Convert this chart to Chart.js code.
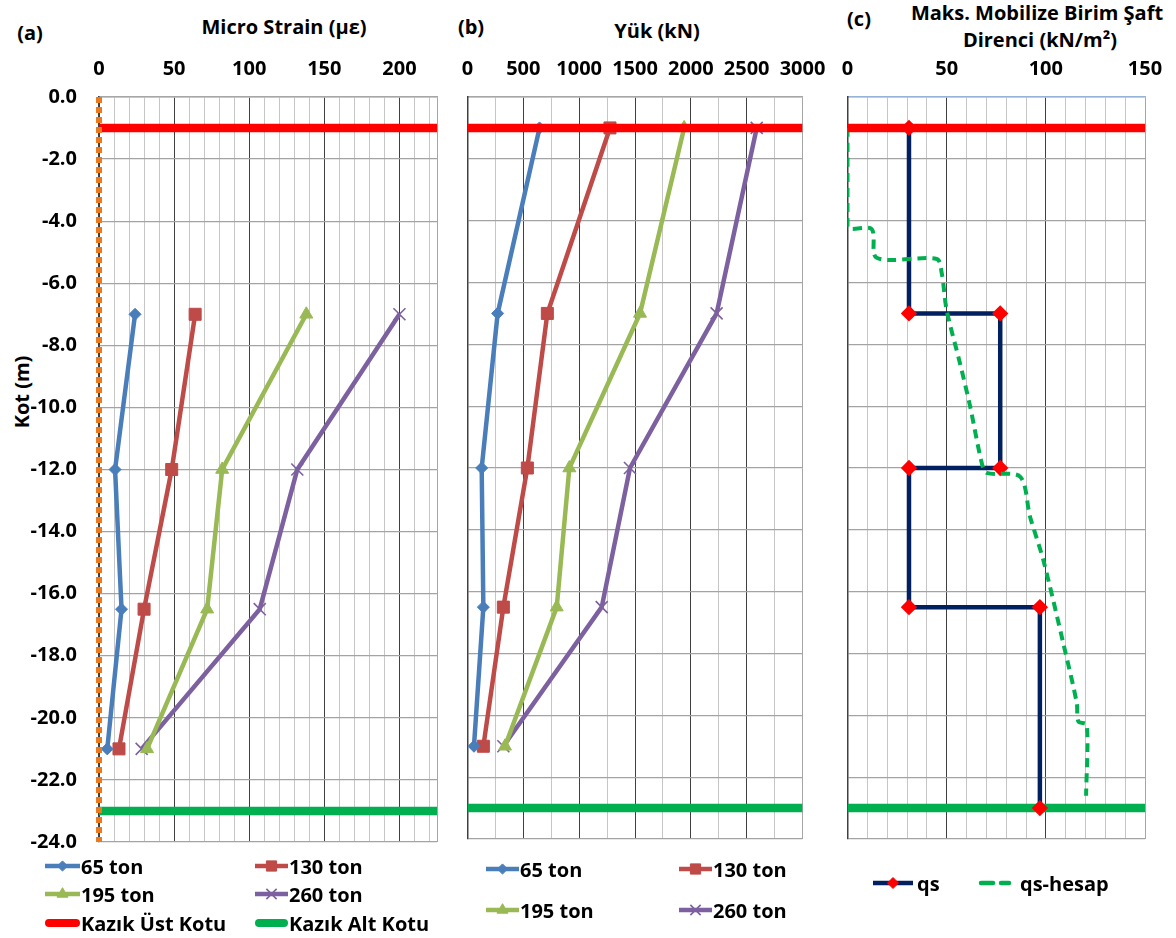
<!DOCTYPE html>
<html>
<head>
<meta charset="utf-8">
<script src="https://cdn.jsdelivr.net/npm/chart.js@4.4.1/dist/chart.umd.min.js"></script>
<style>
body{margin:0;background:#fff;width:1176px;height:938px;position:relative;overflow:hidden;font-family:"Open Sans",Lato,sans-serif;font-weight:bold;color:#000}
.t{position:absolute;white-space:nowrap;transform:translate(-50%,-50%);font-size:20px;line-height:1}
canvas.ch{position:absolute;top:0}
.li{position:absolute;display:flex;align-items:center;font-size:20px;height:24px;white-space:nowrap}
.li canvas{display:block}
</style>
</head>
<body>
<div class="t" style="left:30px;top:33px">(a)</div>
<div class="t" style="left:284px;top:27px">Micro Strain (με)</div>
<div class="t" style="left:22px;top:392px;transform:translate(-50%,-50%) rotate(-90deg)">Kot (m)</div>
<div class="t" style="left:471px;top:27px">(b)</div>
<div class="t" style="left:657px;top:31px">Yük (kN)</div>
<div class="t" style="left:859px;top:19px">(c)</div>
<div class="t" style="left:1037px;top:13px">Maks. Mobilize Birim Şaft</div>
<div class="t" style="left:1040px;top:40px">Direnci (kN/m²)</div>

<canvas class="ch" id="chartA" width="450" height="860" style="left:0"></canvas>
<canvas class="ch" id="chartB" width="375" height="860" style="left:450px"></canvas>
<canvas class="ch" id="chartC" width="346" height="860" style="left:830px"></canvas>

<script>
// (a) mikro birim deformasyon
const depthA = [-7, -12, -16.5, -21];
const strain65 = [24, 10.7, 15, 5.5];
const strain130 = [64, 48.4, 30, 13.3];
const strain195 = [138, 82, 72, 32];
const strain260 = [200, 132, 107, 28.4];
const strainTicks = [0, 50, 100, 150, 200];

// (b) yuk
const depthB = [-1, -7, -12, -16.5, -21];
const load65 = [645, 270, 127, 142, 58];
const load130 = [1276, 715, 536, 321, 142];
const load195 = [1940, 1545, 912, 799, 336];
const load260 = [2590, 2231, 1455, 1202, 321];
const loadTicks = [0, 500, 1000, 1500, 2000, 2500, 3000];

// (c) birim saft direnci
const qsX = [31, 31, 77, 77, 31, 31, 97, 97];
const qsDepth = [-1, -7, -7, -12, -12, -16.5, -16.5, -23];
const hesapX = [0, 0, 12.2, 14.7, 45, 47.5, 50, 56.7, 61.8, 67.7, 70.2, 87, 92, 98.7, 108.8, 115.6, 116.4, 120.6, 120.3];
const hesapDepth = [-1, -4.19, -4.27, -5.2, -5.24, -5.69, -6.89, -8.61, -10, -11.84, -12.16, -12.28, -13.57, -14.97, -17.67, -19.6, -20.2, -20.3, -22.6];
const qsTicks = [0, 50, 100, 150];

const seriesNames = ['65 ton', '130 ton', '195 ton', '260 ton'];
const pileTop = -1, pileBottom = -23; // kazik ust / alt kotu
const yMin = -24, yMax = 0;

const colors = ['#4A7EBB', '#BE4B48', '#98B954', '#7D60A0'];
const markers = ['rectRot', 'rect', 'triangle', 'crossRot'];
const radii = [6, 8.5, 7.5, 8.5];
const tickFont = {family: 'Open Sans', size: 20, weight: 'bold'};

function zip(xs, ys) {
  return xs.map((x, i) => ({x: x, y: ys[i]}));
}

function series(i, xs, ys) {
  return {
    label: seriesNames[i], data: zip(xs, ys), showLine: true,
    borderColor: colors[i], backgroundColor: colors[i], borderWidth: 4.5,
    pointStyle: markers[i], pointRadius: radii[i], pointHoverRadius: radii[i],
    pointBorderWidth: i == 3 ? 1.6 : 1, pointBorderColor: colors[i], order: 2
  };
}

function hLine(label, y, max, color, order) {
  return {label: label, data: [{x: 0, y: y}, {x: max, y: y}], showLine: true,
    borderColor: color, borderWidth: 8.5, pointRadius: 0, order: order};
}

// etiket tasmasi icin eklenen bosluklari kaldir, cizim alanini sabitle
function noLabelPadding(s) {
  s.paddingLeft = 0; s.paddingRight = 0; s.paddingTop = 0; s.paddingBottom = 0;
}

function xAxis(max, step, major, labels, topColor) {
  return {
    type: 'linear', position: 'top', min: 0, max: max,
    ticks: {stepSize: step, autoSkip: false, maxRotation: 0, padding: 16, font: tickFont, color: '#000',
      callback: v => labels.includes(v) ? v : ''},
    afterBuildTicks: s => {
      const t = [];
      for (let v = 0; v < max; v += step) t.push({value: v});
      t.push({value: max});
      s.ticks = t;
    },
    grid: {drawTicks: false, lineWidth: 1,
      color: c => c.tick.value == max ? '#a6a6a6' : (c.tick.value % major == 0 ? '#404040' : '#c6c6c6')},
    border: {color: topColor, width: 1.5},
    afterFit: s => { s.height = 97; noLabelPadding(s); }
  };
}

function yAxis(showLabels, width, topColor) {
  return {
    type: 'linear', min: yMin, max: yMax,
    ticks: {stepSize: 2, display: showLabels, padding: 22, font: tickFont, color: '#000',
      callback: v => v.toFixed(1)},
    grid: {drawTicks: false, lineWidth: 1.2, color: c => c.tick.value == yMax ? topColor : '#a3a3a3'},
    border: {color: '#404040', width: 1.5},
    afterFit: s => { s.width = width; noLabelPadding(s); }
  };
}

function baseOptions(x, y, padding) {
  return {
    responsive: false, animation: false,
    layout: {padding: padding},
    plugins: {legend: {display: false}, tooltip: {enabled: false}},
    scales: {x: x, y: y}
  };
}

// (a)
new Chart(document.getElementById('chartA'), {
  type: 'scatter',
  data: {datasets: [
    series(0, strain65, depthA), series(1, strain130, depthA),
    series(2, strain195, depthA), series(3, strain260, depthA),
    hLine('Kazık Üst Kotu', pileTop, 225, '#FF0000', 1),
    hLine('Kazık Alt Kotu', pileBottom, 225, '#00B050', 1),
    {label: 'x0', data: [{x: 0, y: yMax}, {x: 0, y: yMin}], showLine: true, borderColor: '#E97A1F',
      borderWidth: 6, borderDash: [6, 4], pointRadius: 0, clip: 10, order: 0}
  ]},
  options: baseOptions(xAxis(225, 10, 50, strainTicks, '#a6a6a6'), yAxis(true, 99, '#a6a6a6'),
    {left: 0, top: 0, right: 13, bottom: 18})
});

// (b)
new Chart(document.getElementById('chartB'), {
  type: 'scatter',
  data: {datasets: [
    series(0, load65, depthB), series(1, load130, depthB),
    series(2, load195, depthB), series(3, load260, depthB),
    hLine('Kazık Üst Kotu', pileTop, 3000, '#FF0000', 1),
    hLine('Kazık Alt Kotu', pileBottom, 3000, '#00B050', 1)
  ]},
  options: baseOptions(xAxis(3000, 250, 500, loadTicks, '#a6a6a6'), yAxis(false, 17.5, '#a6a6a6'),
    {left: 0, top: 0, right: 22.5, bottom: 21})
});

// (c)
new Chart(document.getElementById('chartC'), {
  type: 'scatter',
  data: {datasets: [
    {label: 'qs', data: zip(qsX, qsDepth), showLine: true, borderColor: '#002060', borderWidth: 4.5,
      pointStyle: 'rectRot', pointRadius: 5, pointHoverRadius: 5, pointBackgroundColor: '#FF0000',
      pointBorderColor: '#FF0000', order: 2},
    {label: 'qs-hesap', data: zip(hesapX, hesapDepth), showLine: true, borderColor: '#00B050',
      borderWidth: 4, borderDash: [9, 6], tension: 0.3, pointRadius: 0, order: 1},
    hLine('Kazık Üst Kotu', pileTop, 150, '#FF0000', 0),
    hLine('Kazık Alt Kotu', pileBottom, 150, '#00B050', 3)
  ]},
  options: baseOptions(xAxis(150, 10, 50, qsTicks, '#95B3D7'), yAxis(false, 17.5, '#95B3D7'),
    {left: 0, top: 0, right: 31, bottom: 21})
});

// lejantlar
function legendItem(left, top, len, text, sym) {
  const div = document.createElement('div');
  div.className = 'li';
  div.style.left = left + 'px';
  div.style.top = (top - 12) + 'px';
  const cv = document.createElement('canvas');
  cv.width = len; cv.height = 24;
  const ctx = cv.getContext('2d');
  ctx.strokeStyle = sym.line; ctx.lineWidth = sym.width;
  ctx.lineCap = sym.cap || 'butt';
  if (sym.dash) ctx.setLineDash(sym.dash);
  ctx.beginPath(); ctx.moveTo(sym.cap == 'round' ? 4 : 0, 12); ctx.lineTo(sym.cap == 'round' ? len - 4 : len, 12); ctx.stroke();
  ctx.setLineDash([]);
  if (sym.marker && Chart.helpers && Chart.helpers.drawPoint) {
    ctx.fillStyle = sym.fill; ctx.strokeStyle = sym.fill; ctx.lineWidth = sym.mw || 1;
    Chart.helpers.drawPoint(ctx, {pointStyle: sym.marker, radius: sym.r, rotation: 0, borderWidth: sym.mw || 1}, len / 2, 12);
  }
  const sp = document.createElement('span');
  sp.textContent = text;
  sp.style.marginLeft = (sym.gap || 1) + 'px';
  div.appendChild(cv); div.appendChild(sp);
  document.body.appendChild(div);
}
function serSym(i) {
  return {line: colors[i], width: 4.5, marker: markers[i], fill: colors[i], r: radii[i] * 0.85, mw: i == 3 ? 1.6 : 1};
}
// (a)
legendItem(45, 866, 35, seriesNames[0], serSym(0));
legendItem(255, 866, 33, seriesNames[1], serSym(1));
legendItem(45, 894, 35, seriesNames[2], serSym(2));
legendItem(255, 894, 33, seriesNames[3], serSym(3));
legendItem(45, 923, 35, 'Kazık Üst Kotu', {line: '#FF0000', width: 8, cap: 'round'});
legendItem(255, 923, 33, 'Kazık Alt Kotu', {line: '#00B050', width: 8, cap: 'round'});
// (b)
legendItem(486, 869, 33, seriesNames[0], serSym(0));
legendItem(679, 869, 33, seriesNames[1], serSym(1));
legendItem(486, 910, 33, seriesNames[2], serSym(2));
legendItem(679, 910, 33, seriesNames[3], serSym(3));
// (c)
legendItem(873, 883, 40, 'qs', {line: '#002060', width: 4.5, marker: 'rectRot', fill: '#FF0000', r: 5.5, gap: 4});
legendItem(977, 883, 36, 'qs-hesap', {line: '#00B050', width: 4.5, dash: [12, 8], cap: 'round', gap: 7});
</script>
</body>
</html>
